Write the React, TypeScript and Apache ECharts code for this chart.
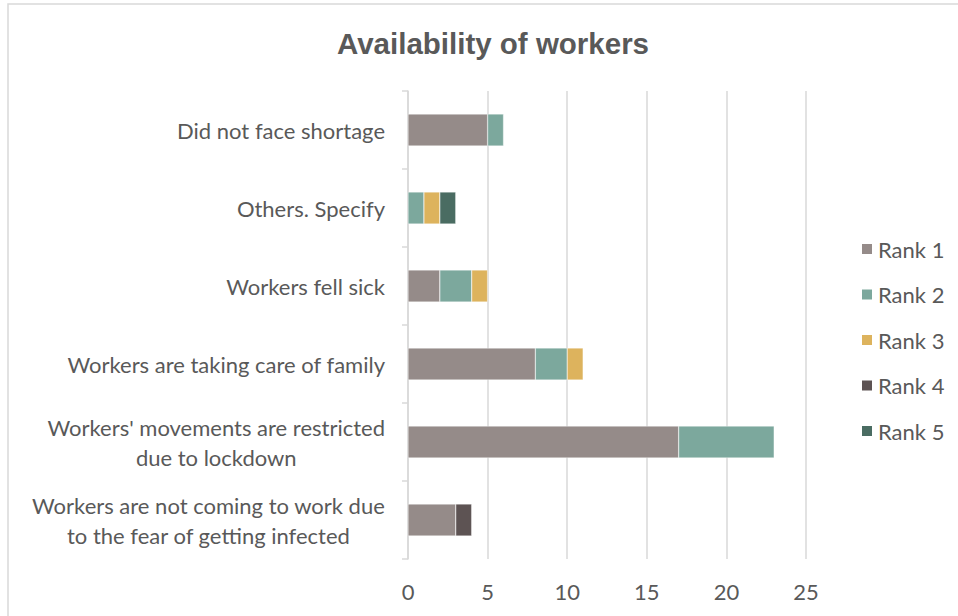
import React, { useEffect, useRef } from "react";
import * as echarts from "echarts";

const categories = [
  "Workers are not coming to work due\nto the fear of getting infected",
  "Workers' movements are restricted\ndue to lockdown",
  "Workers are taking care of family",
  "Workers fell sick",
  "Others. Specify",
  "Did not face shortage",
];
const seriesNames = ["Rank 1", "Rank 2", "Rank 3", "Rank 4", "Rank 5"];
const rank1 = [3, 17, 8, 2, 0, 5];
const rank2 = [0, 6, 2, 2, 1, 1];
const rank3 = [0, 0, 1, 1, 1, 0];
const rank4 = [1, 0, 0, 0, 0, 0];
const rank5 = [0, 0, 0, 0, 1, 0];
const xTicks = [0, 5, 10, 15, 20, 25];

const colors = ["#958b89", "#7ca89d", "#ddb35d", "#5d5353", "#4a6c62"];
const FONT = "Lato";
const LABEL_SIZE = 22;

export default function App() {
  const ref = useRef<HTMLDivElement>(null);
  useEffect(() => {
    if (!ref.current) return;
    const chart = echarts.init(ref.current, undefined, { renderer: "svg" });

    const values = [rank1, rank2, rank3, rank4, rank5];
    const series = seriesNames.map((name, i) => ({
      name,
      type: "bar",
      stack: "total",
      barWidth: 32,
      itemStyle: { color: colors[i], borderColor: "#ffffff", borderWidth: 0.4 },
      data: values[i].map((v) => (v === 0 ? null : v)),
    }));

    chart.setOption({
      animation: false,
      backgroundColor: "#ffffff",
      textStyle: { fontFamily: FONT },
      title: {
        text: "Availability of workers",
        left: 488,
        textAlign: "center",
        top: 23,
        textStyle: { fontFamily: "Liberation Sans", fontSize: 29.5, fontWeight: "bold", color: "#595959" },
      },
      graphic: [
        {
          type: "rect",
          shape: { x: 8, y: 4, width: 1000, height: 700 },
          style: { fill: "none", stroke: "#d9d9d9", lineWidth: 1.5 },
          silent: true,
        },
      ],
      legend: {
        orient: "vertical",
        left: 855,
        top: 233,
        itemWidth: 12,
        itemHeight: 12,
        itemGap: 23.5,
        icon: "rect",
        data: seriesNames,
        textStyle: { fontSize: LABEL_SIZE, color: "#595959", fontFamily: FONT, lineHeight: 22 },
      },
      grid: { left: 408, right: 152, top: 91, bottom: 57, containLabel: false },
      xAxis: {
        type: "value",
        min: 0,
        max: 25,
        interval: 5,
        axisLine: { show: false },
        axisTick: { show: false },
        splitLine: { lineStyle: { color: "#d9d9d9", width: 1.5 } },
        axisLabel: {
          fontSize: LABEL_SIZE,
          color: "#595959",
          margin: 21,
          formatter: (v: number) => (xTicks.includes(v) ? String(v) : ""),
        },
      },
      yAxis: {
        type: "category",
        data: categories,
        axisLine: { show: true, lineStyle: { color: "#d9d9d9", width: 1.5 } },
        axisTick: { show: true, length: 6, lineStyle: { color: "#d9d9d9", width: 1.5 } },
        axisLabel: {
          margin: 23,
          fontSize: LABEL_SIZE,
          color: "#595959",
          lineHeight: 30,
          formatter: (v: string) => {
            const lines = v.split("\n");
            if (lines.length === 1) return v;
            return lines.map((l) => `{a|${l}}`).join("\n");
          },
          rich: {
            a: {
              fontSize: LABEL_SIZE,
              color: "#595959",
              fontFamily: FONT,
              lineHeight: 30,
              align: "center",
            },
          },
        },
      },
      series,
    });
    return () => chart.dispose();
  }, []);
  return <div ref={ref} style={{ width: 958, height: 616, position: "absolute", left: 0, top: 0 }} />;
}
